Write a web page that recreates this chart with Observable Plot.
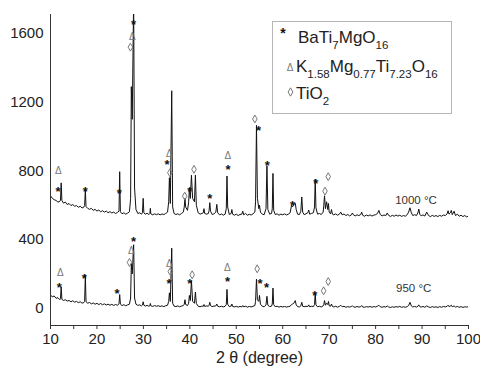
<!DOCTYPE html>
<html><head><meta charset="utf-8">
<script src="https://cdn.jsdelivr.net/npm/d3@7"></script>
<script src="https://cdn.jsdelivr.net/npm/@observablehq/plot@0.6"></script>
<style>
body{margin:0;background:#fff;}
#chart{position:relative;width:480px;height:376px;}
</style>
</head><body><div id="chart"></div>
<script>
// 2θ angles (degrees), shared by both patterns
const twoTheta = [
  10, 10.4, 10.8, 11.2, 11.6, 12.0, 12.15, 12.3, 12.45, 12.8,
  13.2, 13.6, 14.0, 14.4, 14.8, 15.2, 15.6, 16.0, 16.4, 16.8,
  17.2, 17.35, 17.5, 17.65, 18.0, 18.4, 18.8, 19.2, 19.6, 20.0,
  20.4, 20.8, 21.2, 21.6, 22.0, 22.4, 22.8, 23.2, 23.6, 24.0,
  24.4, 24.75, 24.9, 25.05, 25.4, 25.8, 26.2, 26.6, 27.0, 27.25,
  27.4, 27.6, 27.9, 28.1, 28.4, 28.8, 29.2, 29.6, 29.8, 29.95,
  30.1, 30.4, 30.8, 31.2, 31.4, 31.5, 31.6, 32.0, 32.4, 32.8,
  33.2, 33.6, 34.0, 34.4, 34.8, 35.2, 35.45, 35.6, 35.8, 36.1,
  36.3, 36.6, 37.0, 37.4, 37.8, 38.2, 38.6, 38.8, 38.95, 39.1,
  39.5, 39.75, 39.9, 40.1, 40.35, 40.6, 41.0, 41.2, 41.4, 41.8,
  42.2, 42.6, 42.9, 43.05, 43.2, 43.6, 44.0, 44.15, 44.3, 44.45,
  44.8, 45.2, 45.6, 45.8, 46.0, 46.4, 46.8, 47.2, 47.6, 47.85,
  48.0, 48.15, 48.5, 48.9, 49.05, 49.2, 49.6, 50.0, 50.4, 50.8,
  51.2, 51.4, 51.6, 52.0, 52.4, 52.8, 53.2, 53.6, 54.0, 54.15,
  54.35, 54.55, 54.85, 55.0, 55.2, 55.6, 56.0, 56.4, 56.6, 56.8,
  57.2, 57.6, 57.75, 57.9, 58.05, 58.4, 58.8, 59.2, 59.6, 60.0,
  60.4, 60.8, 61.2, 61.6, 61.9, 62.1, 62.4, 62.7, 62.9, 63.2,
  63.6, 63.9, 64.1, 64.3, 64.6, 65.0, 65.4, 65.6, 65.8, 66.2,
  66.6, 66.85, 67.0, 67.15, 67.5, 67.9, 68.3, 68.7, 68.85, 69.0,
  69.2, 69.45, 69.7, 69.85, 70.0, 70.3, 70.5, 70.7, 71.0, 71.4,
  71.8, 72.2, 72.5, 72.8, 73.2, 73.6, 74.0, 74.4, 74.8, 75.0,
  75.2, 75.6, 76.0, 76.4, 76.8, 77.0, 77.2, 77.6, 78.0, 78.4,
  78.8, 79.2, 79.6, 80.0, 80.4, 80.7, 81.0, 81.4, 81.8, 82.2,
  82.5, 82.8, 83.2, 83.6, 84.0, 84.4, 84.8, 85.2, 85.6, 86.0,
  86.4, 86.8, 87.1, 87.4, 87.7, 88.0, 88.4, 88.8, 89.1, 89.3,
  89.5, 89.8, 90.2, 90.6, 91.0, 91.4, 91.8, 92.2, 92.6, 93.0,
  93.4, 93.8, 94.2, 94.6, 95.0, 95.4, 95.6, 95.8, 96.1, 96.3,
  96.5, 96.9, 97.2, 97.6, 98.0, 98.4, 98.8, 99.2, 99.6, 100
];
// Intensity, sample annealed at 950 °C
const counts950 = [
  78, 66, 72, 58, 62, 50, 56, 125, 52, 46,
  50, 42, 46, 38, 44, 36, 40, 33, 38, 30,
  34, 40, 195, 38, 30, 34, 26, 31, 24, 29,
  22, 28, 21, 26, 19, 24, 18, 23, 17, 22,
  18, 26, 80, 24, 16, 21, 15, 20, 24, 60,
  260, 200, 370, 60, 24, 17, 20, 14, 19, 38,
  18, 13, 17, 12, 16, 28, 15, 11, 16, 12,
  15, 11, 14, 10, 15, 18, 40, 90, 40, 350,
  30, 13, 10, 14, 9, 13, 16, 24, 50, 22,
  16, 30, 75, 45, 160, 40, 30, 95, 28, 12,
  9, 13, 12, 22, 11, 14, 12, 18, 35, 16,
  10, 13, 14, 25, 12, 9, 12, 8, 12, 22,
  110, 24, 10, 13, 25, 11, 8, 12, 7, 11,
  8, 16, 9, 12, 7, 11, 8, 12, 16, 40,
  170, 50, 40, 75, 24, 12, 9, 20, 70, 18,
  10, 13, 25, 118, 22, 9, 12, 7, 11, 8,
  11, 7, 10, 12, 22, 25, 30, 45, 20, 10,
  8, 14, 35, 12, 9, 12, 10, 20, 9, 12,
  10, 22, 90, 20, 9, 12, 8, 14, 22, 45,
  18, 30, 22, 40, 15, 12, 25, 11, 8, 12,
  7, 11, 18, 9, 12, 6, 10, 7, 11, 15,
  9, 6, 11, 7, 10, 16, 8, 6, 10, 7,
  11, 6, 10, 8, 12, 18, 9, 6, 10, 7,
  14, 8, 5, 9, 6, 10, 7, 11, 6, 9,
  6, 10, 16, 35, 14, 8, 11, 7, 12, 20,
  10, 7, 11, 6, 14, 8, 5, 10, 6, 9,
  5, 10, 6, 11, 8, 12, 18, 10, 14, 18,
  9, 14, 7, 11, 6, 10, 5, 9, 7, 10
];
// Intensity, sample annealed at 1000 °C (offset trace)
const counts1000 = [
  655, 640, 632, 628, 618, 622, 630, 730, 628, 612,
  618, 604, 610, 598, 604, 594, 598, 588, 594, 584,
  590, 598, 690, 592, 582, 576, 582, 570, 576, 566,
  572, 562, 568, 560, 566, 556, 563, 555, 560, 552,
  558, 566, 795, 562, 550, 556, 548, 554, 562, 640,
  1290, 1100, 1800, 700, 575, 552, 556, 548, 558, 640,
  556, 548, 553, 546, 552, 582, 550, 544, 550, 545,
  550, 544, 549, 546, 552, 560, 620, 760, 610, 1266,
  590, 552, 546, 550, 544, 552, 560, 590, 640, 590,
  570, 620, 700, 640, 775, 640, 620, 775, 600, 556,
  548, 552, 556, 580, 552, 548, 552, 570, 615, 566,
  546, 550, 560, 605, 556, 544, 549, 542, 548, 580,
  770, 590, 546, 552, 575, 548, 542, 548, 540, 546,
  548, 565, 544, 552, 542, 547, 543, 550, 560, 620,
  1065, 640, 580, 600, 560, 548, 545, 580, 830, 575,
  548, 552, 580, 785, 570, 546, 550, 542, 548, 544,
  550, 543, 548, 556, 600, 590, 605, 612, 575, 548,
  546, 565, 648, 560, 545, 550, 556, 572, 548, 552,
  556, 590, 752, 585, 548, 552, 546, 560, 600, 655,
  580, 620, 575, 610, 560, 550, 575, 548, 544, 550,
  542, 548, 560, 544, 549, 540, 546, 538, 544, 555,
  545, 538, 544, 540, 546, 560, 542, 536, 543, 538,
  544, 537, 542, 545, 552, 570, 546, 538, 543, 540,
  555, 541, 535, 541, 536, 543, 537, 542, 535, 540,
  536, 545, 560, 585, 556, 540, 545, 540, 556, 578,
  548, 538, 544, 537, 560, 540, 534, 541, 535, 540,
  534, 541, 536, 543, 540, 550, 568, 548, 556, 570,
  545, 565, 540, 548, 536, 542, 534, 540, 532, 538
];

// Phase markers: * BaTi7MgO16, Δ K1.58Mg0.77Ti7.23O16, ◇ TiO2
const starX = [11.6, 17.5, 24.8, 27.9, 35.1, 40.0, 44.3, 48.2, 54.8, 56.7, 62.1, 67.1,
               11.9, 17.3, 24.3, 27.9, 35.5, 40.0, 48.1, 55.1, 56.5, 66.9];
const starY = [700, 700, 686, 1668, 857, 701, 659, 826, 1056, 847, 614, 745,
               140, 191, 107, 405, 162, 162, 172, 160, 137, 92];
const deltaX = [11.7, 27.6, 35.6, 48.2, 12.1, 27.4, 35.6, 48.1];
const deltaY = [800, 1578, 900, 885, 205, 332, 259, 236];
const diamondX = [27.2, 35.7, 38.9, 40.9, 54.0, 69.1, 69.8, 27.0, 35.8, 40.5, 54.5, 68.8, 69.8];
const diamondY = [1520, 789, 653, 809, 1102, 682, 766, 267, 214, 195, 230, 102, 156];

const xTickValues = [10, 20, 30, 40, 50, 60, 70, 80, 90, 100];
const xMinorTicks = [15, 25, 35, 45, 55, 65, 75, 85, 95];
const yTickValues = [0, 400, 800, 1200, 1600];
const tempLabels = ["1000 °C", "950 °C"];
const tempLabelX = [88.7, 88.2];
const tempLabelY = [630, 117];
const xLabel = "2 θ (degree)";

const rows = twoTheta.map((t, i) => ({t, a: counts950[i], b: counts1000[i]}));
const pts = (xs, ys) => xs.map((x, i) => ({x, y: ys[i]}));

const font = "'Liberation Sans', Arial, sans-serif";
const plot = Plot.plot({
  width: 480, height: 376,
  marginLeft: 50, marginRight: 12, marginTop: 14, marginBottom: 51,
  style: {fontFamily: font, fontSize: "15px", color: "#222", background: "#fff"},
  x: {domain: [10, 100]},
  y: {domain: [-100, 1710]},
  marks: [
    Plot.line(rows, {x: "t", y: "a", stroke: "#111", strokeWidth: 1, clip: true}),
    Plot.line(rows, {x: "t", y: "b", stroke: "#111", strokeWidth: 1, clip: true}),
    Plot.text(pts(starX, starY), {x: "x", y: "y", text: () => "*", fontSize: 13, fontWeight: "bold", fill: "#111", dy: 3.5}),
    Plot.text(pts(deltaX, deltaY), {x: "x", y: "y", text: () => "Δ", fontSize: 10, fill: "#777"}),
    Plot.dot(pts(diamondX, diamondY), {x: "x", y: "y", symbol: "diamond", r: 2.4, stroke: "#777", strokeWidth: 1, fill: "none"}),
    Plot.text(tempLabels, {x: (d, i) => tempLabelX[i], y: (d, i) => tempLabelY[i], text: d => d, fontSize: 11.5, fill: "#333"}),
    Plot.ruleX([10], {y1: -100, y2: 1710, stroke: "#333"}),
    Plot.ruleY([-100], {stroke: "#333"}),
    Plot.axisY({ticks: yTickValues, tickSize: 0, tickPadding: 7, label: null, fontSize: 15, tickFormat: d => String(d)}),
    Plot.axisX({ticks: xMinorTicks, tickSize: 4, tickFormat: () => "", label: null, stroke: "#333"}),
    Plot.axisX({ticks: xTickValues, tickSize: 4, tickPadding: 4, label: null, fontSize: 15, stroke: "#333", tickFormat: d => String(d)}),
    Plot.text([xLabel], {frameAnchor: "bottom", dy: 37, fontSize: 16, fill: "#222"})
  ]
});

// Legend box inside the SVG
const svg = d3.select(plot);
const g = svg.append("g").attr("font-family", font).attr("fill", "#222").attr("text-anchor", "start");
g.append("rect").attr("x", 272.5).attr("y", 21.5).attr("width", 179).attr("height", 92)
  .attr("fill", "#fff").attr("stroke", "#b5b5b5");
const legendLines = [
  {glyph: "*", gx: 283, gy: 38, gsize: 14, gfill: "#111", gbold: true, tx: 298, ty: 42.7,
   parts: [["BaTi", 0], ["7", 1], ["MgO", 0], ["16", 1]]},
  {glyph: "Δ", gx: 290, gy: 71, gsize: 10, gfill: "#777", tx: 296, ty: 71.5,
   parts: [["K", 0], ["1.58", 1], ["Mg", 0], ["0.77", 1], ["Ti", 0], ["7.23", 1], ["O", 0], ["16", 1]]},
  {glyph: null, gx: 290.5, gy: 92, tx: 296, ty: 99.3,
   parts: [["TiO", 0], ["2", 1]]}
];
legendLines.forEach(L => {
  if (L.glyph) {
    g.append("text").attr("x", L.gx).attr("y", L.gy).attr("text-anchor", "middle")
      .attr("font-size", L.gsize).attr("fill", L.gfill)
      .attr("font-weight", L.gbold ? "bold" : null)
      .text(L.glyph);
  } else {
    g.append("path").attr("d", d3.symbol(d3.symbolDiamond, 20)())
      .attr("transform", `translate(${L.gx},${L.gy})`)
      .attr("fill", "none").attr("stroke", "#777");
  }
  const t = g.append("text").attr("x", L.tx).attr("y", L.ty).attr("font-size", 17).attr("text-anchor", "start");
  let sub = false;
  L.parts.forEach(([s, isSub]) => {
    const ts = t.append("tspan").text(s);
    if (isSub && !sub) { ts.attr("dy", 6).attr("font-size", 11.5); sub = true; }
    else if (isSub) { ts.attr("font-size", 11.5); }
    else if (sub) { ts.attr("dy", -6); sub = false; }
  });
});

document.getElementById("chart").appendChild(plot);
</script>
</body></html>
